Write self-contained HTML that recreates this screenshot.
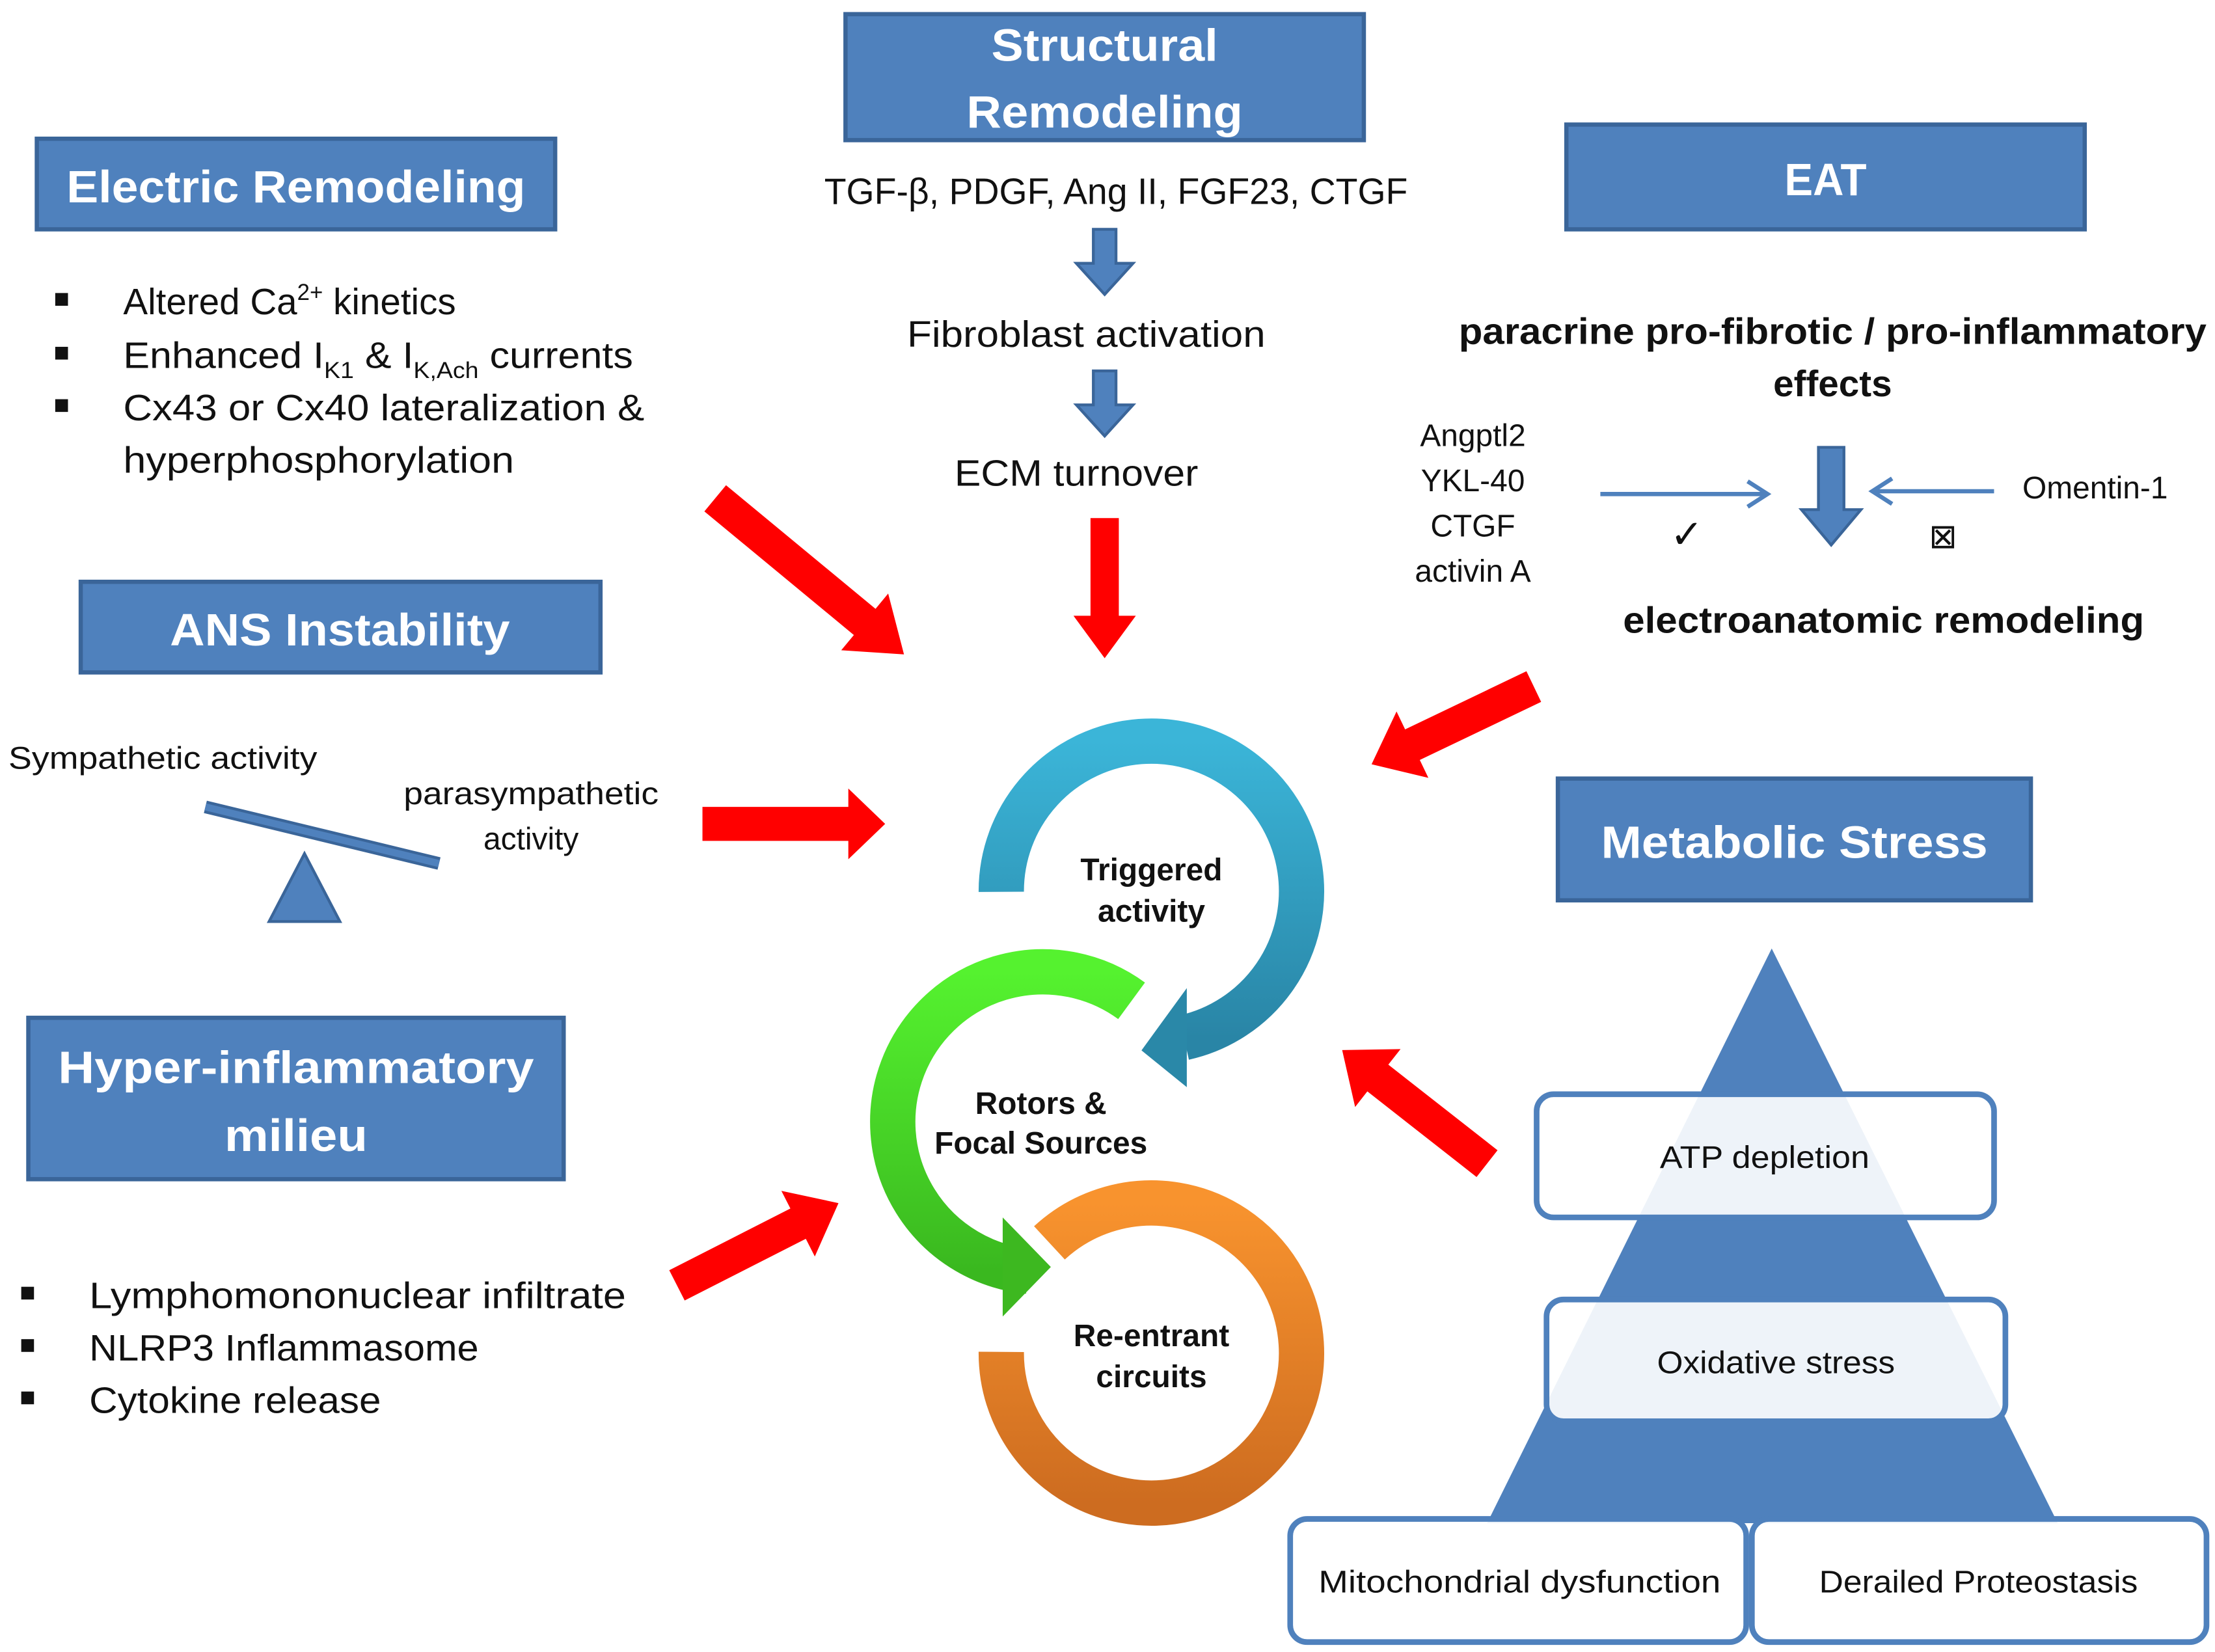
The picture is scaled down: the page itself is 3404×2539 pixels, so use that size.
<!DOCTYPE html>
<html><head><meta charset="utf-8"><style>
html,body{margin:0;padding:0;background:#fff;}
svg{display:block;}
text{font-family:"Liberation Sans",sans-serif;}
</style></head><body>
<svg width="3404" height="2539" viewBox="0 0 1564 1167" preserveAspectRatio="none" xmlns="http://www.w3.org/2000/svg">
<defs>
<linearGradient id="gb" x1="0" y1="0" x2="0" y2="1"><stop offset="0" stop-color="#3bb5d8"/><stop offset="1" stop-color="#2985a6"/></linearGradient>
<linearGradient id="gg" x1="0" y1="0" x2="0" y2="1"><stop offset="0" stop-color="#55f22f"/><stop offset="1" stop-color="#3ab81f"/></linearGradient>
<linearGradient id="go" x1="0" y1="0" x2="0" y2="1"><stop offset="0" stop-color="#f8932e"/><stop offset="1" stop-color="#cd6c20"/></linearGradient>
</defs>
<g fill="#4f81bd" stroke="#3a6599" stroke-width="3">
<rect x="26" y="98" width="366" height="64"/>
<rect x="597" y="10" width="366" height="89"/>
<rect x="1106" y="88" width="366" height="74"/>
<rect x="57" y="411" width="367" height="64"/>
<rect x="20" y="719" width="378" height="114"/>
<rect x="1100" y="550" width="334" height="86"/>
</g>
<g fill="#fff" font-weight="bold" font-size="32" text-anchor="middle">
<text x="209" y="143" textLength="324" lengthAdjust="spacingAndGlyphs">Electric Remodeling</text>
<text x="780" y="43" textLength="160" lengthAdjust="spacingAndGlyphs">Structural</text>
<text x="780" y="90" textLength="195" lengthAdjust="spacingAndGlyphs">Remodeling</text>
<text x="1289" y="138" textLength="58" lengthAdjust="spacingAndGlyphs">EAT</text>
<text x="240" y="456" textLength="240" lengthAdjust="spacingAndGlyphs">ANS Instability</text>
<text x="209" y="765" textLength="336" lengthAdjust="spacingAndGlyphs">Hyper-inflammatory</text>
<text x="209" y="813" textLength="101" lengthAdjust="spacingAndGlyphs">milieu</text>
<text x="1267" y="606" textLength="273" lengthAdjust="spacingAndGlyphs">Metabolic Stress</text>
</g>
<g font-size="26" fill="#111" text-anchor="middle">
<text x="788" y="144" textLength="412" lengthAdjust="spacingAndGlyphs">TGF-β, PDGF, Ang II, FGF23, CTGF</text>
<text x="767" y="245" textLength="253" lengthAdjust="spacingAndGlyphs">Fibroblast activation</text>
<text x="760" y="343" textLength="172" lengthAdjust="spacingAndGlyphs">ECM turnover</text>
</g>
<g fill="#4f81bd" stroke="#3a6599" stroke-width="2">
<path d="M772,162 H788 V186 H800 L780,208 L760,186 H772 Z"/>
<path d="M772,262 H788 V286 H800 L780,308 L760,286 H772 Z"/>
<path d="M1284,316 H1302 V360 H1314 L1293,385 L1272,360 H1284 Z"/>
</g>
<g stroke="#4f81bd" stroke-width="3" fill="none">
<line x1="1130" y1="349" x2="1246" y2="349"/><polyline points="1234,340 1248,349 1234,358"/>
<line x1="1408" y1="347" x2="1324" y2="347"/><polyline points="1336,338 1322,347 1336,356"/>
</g>
<g font-size="26" fill="#111">
<rect x="39" y="207" width="9" height="9"/><rect x="39" y="245" width="9" height="9"/><rect x="39" y="282" width="9" height="9"/>
<text x="87" y="222">Altered Ca<tspan font-size="16" dy="-10">2+</tspan><tspan dy="10"> kinetics</tspan></text>
<text x="87" y="260" textLength="360" lengthAdjust="spacingAndGlyphs">Enhanced I<tspan font-size="16" dy="7">K1</tspan><tspan dy="-7"> &amp; I</tspan><tspan font-size="16" dy="7">K,Ach</tspan><tspan dy="-7"> currents</tspan></text>
<text x="87" y="297" textLength="368" lengthAdjust="spacingAndGlyphs">Cx43  or Cx40 lateralization &amp;</text>
<text x="87" y="334" textLength="276" lengthAdjust="spacingAndGlyphs">hyperphosphorylation</text>
</g>
<g fill="#111" text-anchor="middle">
<text x="1294" y="243" font-size="26" font-weight="bold" textLength="528" lengthAdjust="spacingAndGlyphs">paracrine pro-fibrotic / pro-inflammatory</text>
<text x="1294" y="280" font-size="26" font-weight="bold">effects</text>
<text x="1330" y="447" font-size="26" font-weight="bold" textLength="368" lengthAdjust="spacingAndGlyphs">electroanatomic  remodeling</text>
<g font-size="22"><text x="1040" y="315">Angptl2</text><text x="1040" y="347">YKL-40</text><text x="1040" y="379">CTGF</text><text x="1040" y="411">activin A</text></g>
<text x="1191" y="387" font-size="28" font-family="DejaVu Sans">✓</text>
<text x="1372" y="387" font-size="24" font-family="DejaVu Sans">⊠</text>
</g>
<text x="1428" y="352" font-size="22" fill="#111">Omentin-1</text>
<g font-size="22" fill="#111">
<text x="6" y="543" textLength="218" lengthAdjust="spacingAndGlyphs">Sympathetic activity</text>
<text x="375" y="568" text-anchor="middle" textLength="180" lengthAdjust="spacingAndGlyphs">parasympathetic</text>
<text x="375" y="600" text-anchor="middle">activity</text>
</g>
<line x1="145" y1="570" x2="310" y2="610" stroke="#3a6599" stroke-width="9"/>
<line x1="145" y1="570" x2="310" y2="610" stroke="#4f81bd" stroke-width="5"/>
<polygon points="190,651 215,603 240,651" fill="#4f81bd" stroke="#3a6599" stroke-width="2"/>
<g font-size="26" fill="#111">
<rect x="15" y="909" width="9" height="9"/><rect x="15" y="946" width="9" height="9"/><rect x="15" y="983" width="9" height="9"/>
<text x="63" y="924" textLength="379" lengthAdjust="spacingAndGlyphs">Lymphomononuclear  infiltrate</text>
<text x="63" y="961" textLength="275" lengthAdjust="spacingAndGlyphs">NLRP3 Inflammasome</text>
<text x="63" y="998" textLength="206" lengthAdjust="spacingAndGlyphs">Cytokine release</text>
</g>
<g fill="#ff0000">
<path transform="translate(505,352) rotate(39.6)" d="M0,-12 H137 V-26 L173,0 L137,26 V12 H0 Z"/>
<path transform="translate(780,366) rotate(90)" d="M0,-10 H69 V-22 L99,0 L69,22 V10 H0 Z"/>
<path transform="translate(496,582) rotate(0)" d="M0,-12 H103 V-25 L129,0 L103,25 V12 H0 Z"/>
<path transform="translate(1083,485) rotate(154.4)" d="M0,-12 H95 V-26 L127,0 L95,26 V12 H0 Z"/>
<path transform="translate(1050,822) rotate(218.1)" d="M0,-12 H98 V-26 L130,0 L98,26 V12 H0 Z"/>
<path transform="translate(478,908) rotate(-27)" d="M0,-12 H96 V-26 L128,0 L96,26 V12 H0 Z"/>
</g>
<path d="M707,630 A106,106 0 1 1 836,733" fill="none" stroke="url(#gb)" stroke-width="32"/>
<polygon points="838,698 806,742 838,768" fill="#2a88a8"/>
<path d="M799,707 A106,106 0 1 0 726,898" fill="none" stroke="url(#gg)" stroke-width="32"/>
<polygon points="708,860 742,895 708,930" fill="#3db820"/>
<path d="M741,878 A106,106 0 1 1 707,955" fill="none" stroke="url(#go)" stroke-width="32"/>
<g font-size="22" font-weight="bold" fill="#111" text-anchor="middle">
<text x="813" y="622">Triggered</text><text x="813" y="651">activity</text>
<text x="735" y="787">Rotors &amp;</text><text x="735" y="815">Focal Sources</text>
<text x="813" y="951">Re-entrant</text><text x="813" y="980">circuits</text>
</g>
<polygon points="1251,670 1050,1076 1453,1076" fill="#4f81bd"/>
<g fill="#fff" fill-opacity="0.9" stroke="#4f81bd" stroke-width="4">
<rect x="1085" y="773" width="323" height="87" rx="12"/>
<rect x="1092" y="918" width="324" height="86" rx="12"/>
<rect x="911" y="1073" width="322" height="87" rx="12"/>
<rect x="1237" y="1073" width="321" height="87" rx="12"/>
</g>
<g font-size="22" fill="#111" text-anchor="middle">
<text x="1246" y="825" textLength="148" lengthAdjust="spacingAndGlyphs">ATP depletion</text>
<text x="1254" y="970" textLength="168" lengthAdjust="spacingAndGlyphs">Oxidative stress</text>
<text x="1073" y="1125" textLength="284" lengthAdjust="spacingAndGlyphs">Mitochondrial dysfunction</text>
<text x="1397" y="1125" textLength="225" lengthAdjust="spacingAndGlyphs">Derailed Proteostasis</text>
</g>
</svg>
</body></html>
